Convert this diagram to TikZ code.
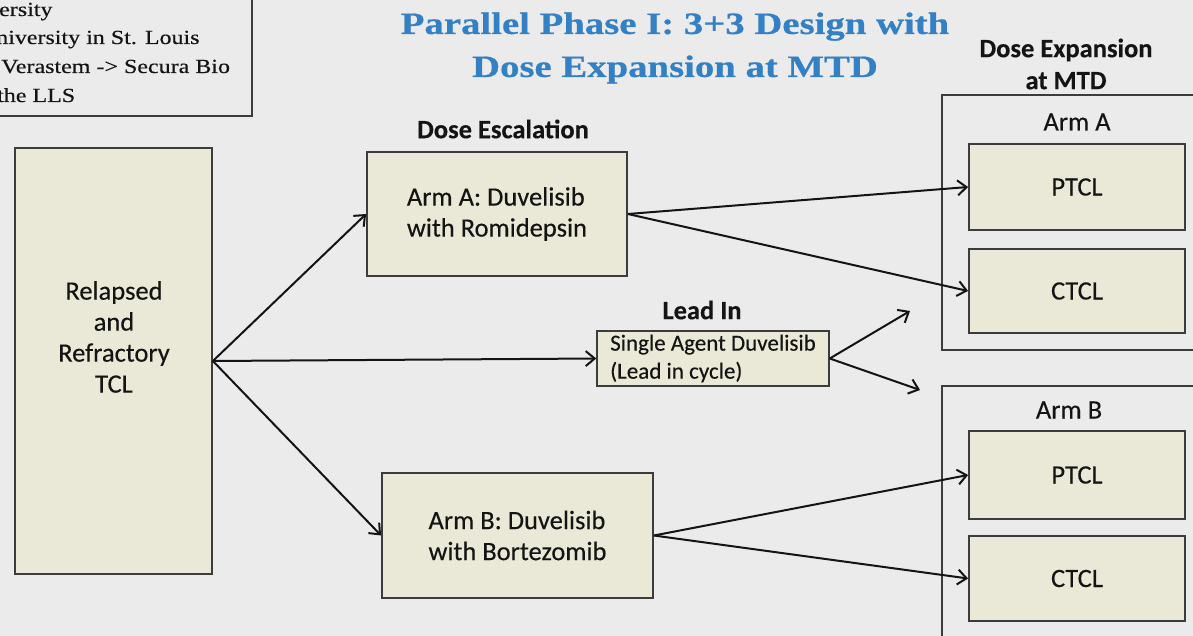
\documentclass[tikz,border=0pt]{standalone}
\usepackage{fontspec}
\setmainfont[FakeBold=0.3]{Carlito}
\newfontfamily\titlefont[FakeStretch=1.25, FakeBold=0.6]{Liberation Serif}
\newfontfamily\notefont[FakeStretch=1.2, FakeBold=0.3]{Liberation Serif}
\usetikzlibrary{arrows.meta}
\definecolor{bg}{RGB}{235,235,235}
\definecolor{boxfill}{RGB}{234,232,214}
\definecolor{edge}{RGB}{60,60,60}
\definecolor{titleblue}{RGB}{52,128,196}
\definecolor{ink}{RGB}{20,20,20}
\tikzset{
  box/.style={draw=edge, line width=1.8pt, fill=boxfill, inner sep=0pt, text=ink,
    font=\fontsize{26.5}{31}\selectfont},
  frame/.style={draw=edge, line width=1.5pt, inner sep=0pt},
  lbl/.style={font=\fontsize{26.5}{31}\selectfont, text=ink, inner sep=0pt, align=center},
  hdr/.style={font=\bfseries\fontsize{26.5}{32}\selectfont, text=ink, inner sep=0pt, align=center},
  note/.style={font=\notefont\fontsize{20}{29}\selectfont, text=ink, inner sep=0pt, anchor=base west},
  arr/.style={draw=ink, line width=2pt, -{Straight Barb[length=9pt,width=15pt,line width=2pt]}}
}
\begin{document}
\begin{tikzpicture}[x=1pt,y=-1pt]
\fill[bg] (0,0) rectangle (1193,636);
\useasboundingbox (0,0) rectangle (1193,636);

% note box (cut off)
\node[frame, fill=bg, minimum width=272pt, minimum height=136pt] (notebox) at (116,48) {};
\node[note] (n1) at (-1,16) {ersity};
\node[note] (n2) at (-4,44) {niversity in St. Louis};
\node[note] (n3) at (1,73) {Verastem -> Secura Bio};
\node[note] (n4) at (-3,102) {the LLS};

% title
\node[font=\titlefont\bfseries\fontsize{31}{43}\selectfont, text=titleblue, align=center, inner sep=0pt] (title) at (675,48)
  {Parallel Phase I: 3+3 Design with\\Dose Expansion at MTD};

% left box
\node[box, minimum width=197pt, minimum height=426pt] (rel) at (113.5,361) {};
\node[lbl] (reltxt) at (114,337) {Relapsed\\and\\Refractory\\TCL};

% dose escalation
\node[hdr] (esc) at (503,129) {Dose Escalation};
\node[box, align=left, minimum width=260pt, minimum height=124pt] (armA) at (497,214)
  {Arm A: Duvelisib\\with Romidepsin};
\node[box, align=left, minimum width=271pt, minimum height=125pt] (armB) at (517.5,535.5)
  {Arm B: Duvelisib\\with Bortezomib};

% lead in
\node[hdr] (leadhdr) at (702,310) {Lead In};
\node[box, align=left, font=\fontsize{23}{28}\selectfont, line width=1.5pt, minimum width=232pt, minimum height=55pt] (lead) at (713,358.5)
  {Single Agent Duvelisib\\(Lead in cycle)};

% dose expansion
\node[hdr] (exp) at (1066,64) {Dose Expansion\\at MTD};
\node[frame, minimum width=268pt, minimum height=255pt] (frameA) at (1076,222.5) {};
\node[frame, minimum width=268pt, minimum height=274pt] (frameB) at (1076,523) {};
\node[lbl] (armAlbl) at (1077,122) {Arm A};
\node[lbl] (armBlbl) at (1069,410) {Arm B};
\node[box, minimum width=216pt, minimum height=86pt] (ptclA) at (1077,187) {PTCL};
\node[box, minimum width=216pt, minimum height=84pt] (ctclA) at (1077,291) {CTCL};
\node[box, minimum width=216pt, minimum height=88pt] (ptclB) at (1077,475) {PTCL};
\node[box, minimum width=216pt, minimum height=85pt] (ctclB) at (1077,578.5) {CTCL};

\coordinate (leadup) at (910,311);
\coordinate (leaddown) at (920,390);

% connectors
\draw[arr] (rel.east) -- (armA.west);
\draw[arr] (rel.east) -- (lead.west);
\draw[arr] (rel.east) -- (armB.west);
\draw[arr] (armA.east) -- (ptclA.west);
\draw[arr] (armA.east) -- (ctclA.west);
\draw[arr] (lead.east) -- (leadup);
\draw[arr] (lead.east) -- (leaddown);
\draw[arr] (armB.east) -- (ptclB.west);
\draw[arr] (armB.east) -- (ctclB.west);
\end{tikzpicture}
\end{document}
